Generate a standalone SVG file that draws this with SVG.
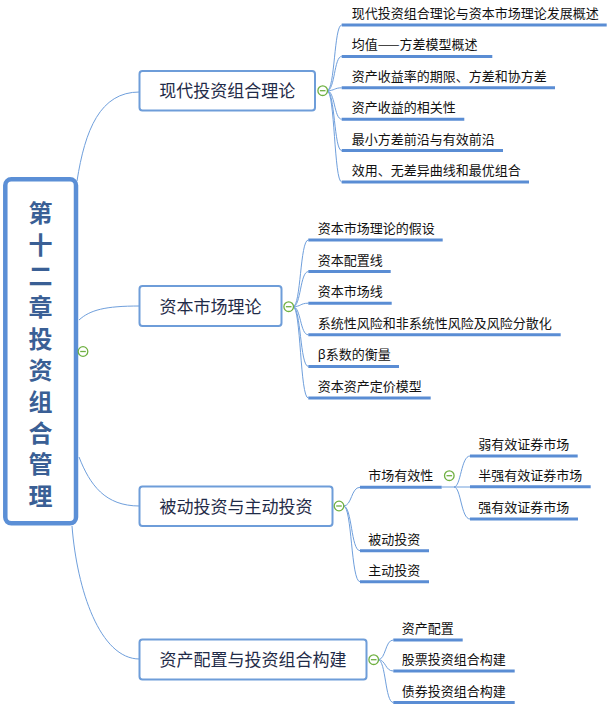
<svg xmlns="http://www.w3.org/2000/svg" width="612" height="711" viewBox="0 0 612 711">
<style>
.bg{fill:#ffffff}
.root{fill:#ffffff;stroke:#5b8fd6;stroke-width:4.5}
.rt{font-family:"Noto Sans CJK SC","Noto Sans",sans-serif;font-size:24px;font-weight:bold;fill:#3a5f95;writing-mode:vertical-rl;letter-spacing:7.4px}
.box{fill:#ffffff;stroke:#6e9dd9;stroke-width:2}
.t1{font-family:"Noto Sans CJK SC","Noto Sans",sans-serif;font-size:17px;fill:#1f2b48;text-anchor:middle}
.t2{font-family:"Noto Sans CJK SC","Noto Sans",sans-serif;font-size:13px;fill:#111111}
.ul{stroke:#5a8dd4;stroke-width:3;fill:none}
.cn{stroke:#6f9fdc;stroke-width:1;fill:none}
.tg circle{fill:#ffffff;stroke:#6fb041;stroke-width:1.3}
.tg line{stroke:#6fb041;stroke-width:1.3}
</style>
<rect class="bg" x="0" y="0" width="612" height="711"/>
<g id="connectors">
<path class="cn" d="M77,181 C85,130 100,92 139.5,92"/>
<path class="cn" d="M79,320 C90,310 105,306 139.5,306"/>
<path class="cn" d="M79,457 C90,485 105,506 139.5,506"/>
<path class="cn" d="M72,526 C77,590 100,659 139.5,659"/>
<path class="cn" d="M327,90.7 C335,90.7 334,25 341.7,25"/>
<path class="cn" d="M327,90.7 C335,90.7 334,56.4 341.7,56.4"/>
<path class="cn" d="M327,90.7 C335,90.7 334,87.8 341.7,87.8"/>
<path class="cn" d="M327,90.7 C335,90.7 334,119.2 341.7,119.2"/>
<path class="cn" d="M327,90.7 C335,90.7 334,150.6 341.7,150.6"/>
<path class="cn" d="M327,90.7 C335,90.7 334,182 341.7,182"/>
<path class="cn" d="M293,306.7 C301,306.7 300,240 308.3,240"/>
<path class="cn" d="M293,306.7 C301,306.7 300,271.6 308.3,271.6"/>
<path class="cn" d="M293,306.7 C301,306.7 300,303.2 308.3,303.2"/>
<path class="cn" d="M293,306.7 C301,306.7 300,334.8 308.3,334.8"/>
<path class="cn" d="M293,306.7 C301,306.7 300,366.4 308.3,366.4"/>
<path class="cn" d="M293,306.7 C301,306.7 300,398 308.3,398"/>
<path class="cn" d="M343.5,506 C352,506 351,487.3 360,487.3"/>
<path class="cn" d="M343.5,506 C352,506 351,550.7 360,550.7"/>
<path class="cn" d="M343.5,506 C352,506 351,581.7 360,581.7"/>
<path class="cn" d="M441.7,487 L470,487"/>
<path class="cn" d="M454,487 C461,487 461,456 470,456"/>
<path class="cn" d="M454,487 C461,487 461,519 470,519"/>
<path class="cn" d="M378,659.7 C386,659.7 385,640 393.3,640"/>
<path class="cn" d="M378,659.7 C386,659.7 385,671 393.3,671"/>
<path class="cn" d="M378,659.7 C386,659.7 385,702.5 393.3,702.5"/>
</g>
<g id="root">
<rect class="root" x="5.3" y="179.3" width="70.7" height="344" rx="6"/>
<text class="rt" x="40.5" y="201">第十二章投资组合管理</text>
<g class="tg"><circle cx="83" cy="351.5" r="4.8"/><line x1="80.2" y1="351.5" x2="85.8" y2="351.5"/></g>
</g>
<g id="n1">
<rect class="box" x="139.5" y="71" width="175.5" height="39.5" rx="3"/>
<text class="t1" x="227.2" y="97.4">现代投资组合理论</text>
<g class="tg"><circle cx="322.7" cy="90.7" r="4.8"/><line x1="319.9" y1="90.7" x2="325.5" y2="90.7"/></g>
</g>
<g id="n1c1"><text class="t2" x="351.7" y="18">现代投资组合理论与资本市场理论发展概述</text><line class="ul" x1="341.7" y1="25" x2="606.7" y2="25"/></g>
<g id="n1c2"><text class="t2" x="351.7" y="49.4">均值——方差模型概述</text><line class="ul" x1="341.7" y1="56.4" x2="492.3" y2="56.4"/></g>
<g id="n1c3"><text class="t2" x="351.7" y="80.8">资产收益率的期限、方差和协方差</text><line class="ul" x1="341.7" y1="87.8" x2="555" y2="87.8"/></g>
<g id="n1c4"><text class="t2" x="351.7" y="112.2">资产收益的相关性</text><line class="ul" x1="341.7" y1="119.2" x2="464.3" y2="119.2"/></g>
<g id="n1c5"><text class="t2" x="351.7" y="143.6">最小方差前沿与有效前沿</text><line class="ul" x1="341.7" y1="150.6" x2="503" y2="150.6"/></g>
<g id="n1c6"><text class="t2" x="351.7" y="175">效用、无差异曲线和最优组合</text><line class="ul" x1="341.7" y1="182" x2="529" y2="182"/></g>
<g id="n2">
<rect class="box" x="139.5" y="286" width="142" height="40" rx="3"/>
<text class="t1" x="210.5" y="312.5">资本市场理论</text>
<g class="tg"><circle cx="288.7" cy="306.7" r="4.8"/><line x1="285.9" y1="306.7" x2="291.5" y2="306.7"/></g>
</g>
<g id="n2c1"><text class="t2" x="317.7" y="233">资本市场理论的假设</text><line class="ul" x1="308.3" y1="240" x2="442.7" y2="240"/></g>
<g id="n2c2"><text class="t2" x="317.7" y="264.6">资本配置线</text><line class="ul" x1="308.3" y1="271.6" x2="390.7" y2="271.6"/></g>
<g id="n2c3"><text class="t2" x="317.7" y="296.2">资本市场线</text><line class="ul" x1="308.3" y1="303.2" x2="391.7" y2="303.2"/></g>
<g id="n2c4"><text class="t2" x="317.7" y="327.8">系统性风险和非系统性风险及风险分散化</text><line class="ul" x1="308.3" y1="334.8" x2="560.7" y2="334.8"/></g>
<g id="n2c5"><text class="t2" x="317.7" y="359.4"><tspan font-family="Noto Sans, sans-serif">β</tspan>系数的衡量</text><line class="ul" x1="308.3" y1="366.4" x2="399" y2="366.4"/></g>
<g id="n2c6"><text class="t2" x="317.7" y="391">资本资产定价模型</text><line class="ul" x1="308.3" y1="398" x2="430.7" y2="398"/></g>
<g id="n3">
<rect class="box" x="139.5" y="486.5" width="193" height="39.5" rx="3"/>
<text class="t1" x="236" y="512.7">被动投资与主动投资</text>
<g class="tg"><circle cx="339" cy="506" r="4.8"/><line x1="336.2" y1="506" x2="341.8" y2="506"/></g>
</g>
<g id="n3c1"><text class="t2" x="368.3" y="480.3">市场有效性</text><line class="ul" x1="360" y1="487.3" x2="441.7" y2="487.3"/>
<g class="tg"><circle cx="449.3" cy="475.7" r="4.8"/><line x1="446.5" y1="475.7" x2="452.1" y2="475.7"/></g>
</g>
<g id="n3c1s1"><text class="t2" x="478.3" y="449">弱有效证券市场</text><line class="ul" x1="470" y1="456" x2="577.7" y2="456"/></g>
<g id="n3c1s2"><text class="t2" x="478.3" y="479.7">半强有效证券市场</text><line class="ul" x1="470" y1="486.7" x2="590.7" y2="486.7"/></g>
<g id="n3c1s3"><text class="t2" x="478.3" y="512">强有效证券市场</text><line class="ul" x1="470" y1="519" x2="578" y2="519"/></g>
<g id="n3c2"><text class="t2" x="368.3" y="543.7">被动投资</text><line class="ul" x1="360" y1="550.7" x2="429" y2="550.7"/></g>
<g id="n3c3"><text class="t2" x="368.3" y="574.7">主动投资</text><line class="ul" x1="360" y1="581.7" x2="429" y2="581.7"/></g>
<g id="n4">
<rect class="box" x="139.5" y="639.5" width="227" height="40" rx="3"/>
<text class="t1" x="253" y="665.8">资产配置与投资组合构建</text>
<g class="tg"><circle cx="373.7" cy="659.7" r="4.8"/><line x1="370.9" y1="659.7" x2="376.5" y2="659.7"/></g>
</g>
<g id="n4c1"><text class="t2" x="401.7" y="633">资产配置</text><line class="ul" x1="393.3" y1="640" x2="462.7" y2="640"/></g>
<g id="n4c2"><text class="t2" x="401.7" y="664">股票投资组合构建</text><line class="ul" x1="393.3" y1="671" x2="514.7" y2="671"/></g>
<g id="n4c3"><text class="t2" x="401.7" y="695.5">债券投资组合构建</text><line class="ul" x1="393.3" y1="702.5" x2="514.7" y2="702.5"/></g>
</svg>
